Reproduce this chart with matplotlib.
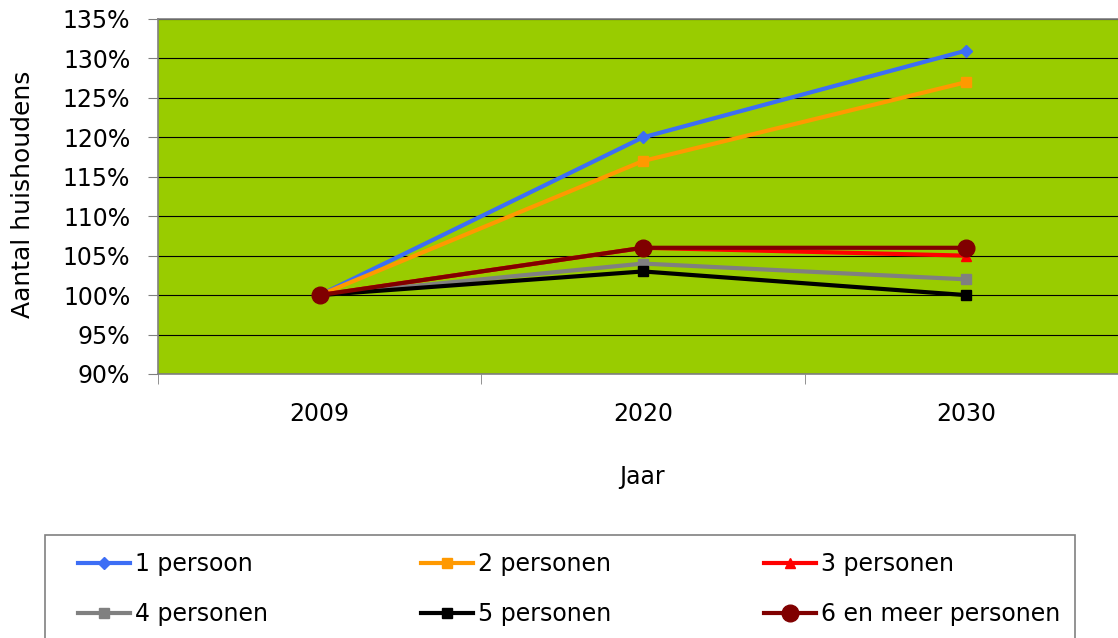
import matplotlib
matplotlib.use("Agg")
from matplotlib import pyplot as plt
from matplotlib.patches import Rectangle
from matplotlib.ticker import FixedLocator

# Data (percent of 2009 level)
jaren = ["2009", "2020", "2030"]
een_persoon = [100, 120, 131]
twee_personen = [100, 117, 127]
drie_personen = [100, 106, 105]
vier_personen = [100, 104, 102]
vijf_personen = [100, 103, 100]
zes_en_meer = [100, 106, 106]

plt.rcParams['font.family'] = ['DejaVu Sans']
FS = 17

fig = plt.figure(figsize=(11.18, 6.38), dpi=100)
ax = fig.add_axes([158 / 1118, 1 - 374 / 638, 970 / 1118, 355 / 638])
ax.set_facecolor("#99CC00")

x = list(range(len(jaren)))
series = [
    (een_persoon, "1 persoon", "#3D6EF5", "D", 6),
    (twee_personen, "2 personen", "#FF9900", "s", 7),
    (drie_personen, "3 personen", "#FF0000", "^", 7),
    (vier_personen, "4 personen", "#808080", "s", 7),
    (vijf_personen, "5 personen", "#000000", "s", 7),
    (zes_en_meer, "6 en meer personen", "#800000", "o", 12),
]
lines = []
for vals, label, col, mk, ms in series:
    ln, = ax.plot(x, vals, color=col, lw=3, marker=mk, markersize=ms, label=label,
                  markeredgecolor=col)
    lines.append(ln)

ax.set_ylim(90, 135)
ax.set_xlim(-0.5, 2.5)
ax.set_yticks(range(90, 136, 5))
ax.set_yticklabels([f"{v}%" for v in range(90, 136, 5)], fontsize=FS)
ax.yaxis.grid(True, color="black", lw=0.8)
ax.set_axisbelow(True)

ax.set_xticks(x)
ax.set_xticklabels(jaren, fontsize=FS)
ax.xaxis.set_minor_locator(FixedLocator([-0.5, 0.5, 1.5, 2.5]))
ax.tick_params(axis="x", which="major", length=0, pad=20)
ax.tick_params(axis="x", which="minor", length=7, color="#808080")
ax.tick_params(axis="y", length=7, color="#808080", pad=13)

for s in ax.spines.values():
    s.set_color("#808080")
    s.set_linewidth(1.2)

ax.set_xlabel("Jaar", fontsize=FS, va="center")
ax.xaxis.set_label_coords(0.499, -(477 - 374) / 355)
ax.set_ylabel("Aantal huishoudens", fontsize=18, va="center")
ax.yaxis.set_label_coords(-0.139, 0.507)

# legend: rows filled left to right like Excel
order = [0, 3, 1, 4, 2, 5]
leg = fig.legend([lines[i] for i in order], [series[i][1] for i in order],
                 loc="upper left", bbox_to_anchor=(78 / 1118, 0, (1060 - 78) / 1118, 1 - 552 / 638),
                 ncol=3, mode="expand", fontsize=FS, frameon=False,
                 handlelength=2.2, handletextpad=0.2,
                 labelspacing=1.1, borderpad=0, borderaxespad=0)
fig.patches.append(Rectangle((45 / 1118, -0.05), 1030 / 1118, 0.05 + 1 - 535 / 638,
                             transform=fig.transFigure, fill=False,
                             edgecolor="#808080", lw=1.2))

fig.savefig("out.png", dpi=100)
